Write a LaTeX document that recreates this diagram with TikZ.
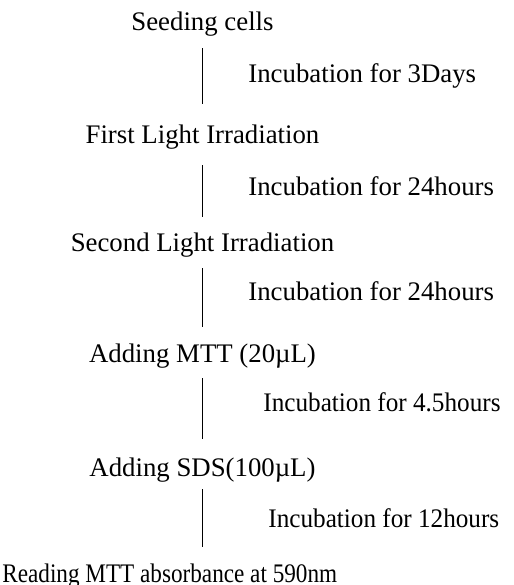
\documentclass[tikz,border=0pt]{standalone}
\usepackage{fontspec}
\setmainfont{Liberation Serif}
\newfontfamily\slimfont{Liberation Serif}[FakeStretch=0.94]
\newfontfamily\narrowfont{Liberation Serif}[FakeStretch=0.865]

\begin{document}
\begin{tikzpicture}[
  x=0.5pt, y=-0.5pt,
  every node/.style={font=\fontsize{13.4}{16}\selectfont},
  stage/.style={inner sep=0pt,text height=8.9pt,text depth=2.8pt,anchor=base},
  wait/.style={inner sep=0pt,anchor=base west},
  link/.style={line width=0.6pt}
]
  \useasboundingbox (0,0) rectangle (514,585);
  % steps of the assay
  \node[stage] (seed)   at (202.5,30)  {Seeding cells};
  \node[stage] (first)  at (202.5,143) {First Light Irradiation};
  \node[stage] (second) at (202.5,251) {Second Light Irradiation};
  \node[stage] (mtt)    at (202.5,362) {Adding MTT (20µL)};
  \node[stage] (sds)    at (202.5,476) {Adding SDS(100µL)};
  \node[stage,anchor=base west,font=\narrowfont\fontsize{13.4}{16}\selectfont]
    (read) at (2,582) {Reading MTT absorbance at 590nm};
  % waiting times
  \node[wait] (inc1) at (248,82)  {Incubation for 3Days};
  \node[wait] (inc2) at (248,195) {Incubation for 24hours};
  \node[wait] (inc3) at (248,300) {Incubation for 24hours};
  \node[wait,font=\slimfont\fontsize{13.4}{16}\selectfont] (inc4) at (263,411) {Incubation for 4.5hours};
  \node[wait,font=\slimfont\fontsize{13.4}{16}\selectfont] (inc5) at (268,527) {Incubation for 12hours};
  \foreach \a/\b/\s/\e in {seed/first/6.2/10.6, first/second/8.2/8.1,
      second/mtt/5.7/8.6, mtt/sds/5.2/9.6, sds/read/3.7/8.6}
    \draw[link,shorten <=\s pt,shorten >=\e pt] (\a) -- (\a |- \b.north);
\end{tikzpicture}
\end{document}
